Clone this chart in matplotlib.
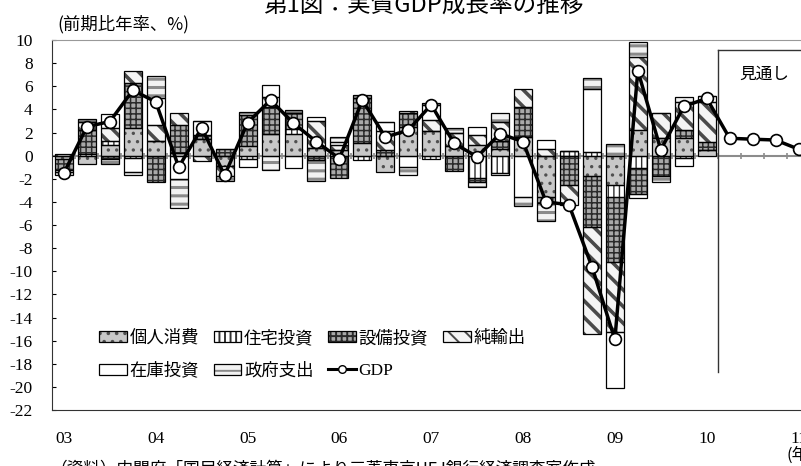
import numpy as np
import matplotlib
matplotlib.use("Agg")
import matplotlib.pyplot as plt
from matplotlib.patches import Patch
from matplotlib.lines import Line2D

plt.rcParams['font.family'] = ['Liberation Serif', 'Noto Sans CJK JP']
plt.rcParams['axes.unicode_minus'] = False
plt.rcParams['hatch.linewidth'] = 1.4
JP = 'Noto Sans CJK JP'

# 2003Q1 - 2010Q1 contributions (% pt, annualised q/q)
consumption = [-0.3, -0.7, 0.9, 2.35, 1.25, 0.2, 1.45, -0.9, 0.8, 1.85, 1.9, 0.7, 0.5, 1.05, -1.4,
               2.5, 2.1, 0.8, 0.9, 0.6, 1.6, -3.6, 0.0, -1.8, -2.55, 2.2, 1.5, 1.5, 0.5]
housing = [0.0, 0.1, 0.4, -0.2, 0.0, 0.0, 0.0, 0.0, -0.3, 0.0, 0.4, 0.0, 0.0, -0.35, 0.0,
           0.0, -0.3, 0.0, -1.95, -1.5, 0.0, 0.0, 0.4, 0.3, -1.0, -1.1, 0.0, -0.2, 0.0]
capex = [-0.9, 2.1, -0.3, 3.9, -2.3, 2.45, 0.35, 0.6, 2.7, 2.35, 1.35, -0.4, -1.9, 3.9, 0.5,
         1.15, 0.0, -1.3, -0.3, 0.7, 2.6, -0.5, -2.55, -4.35, -5.65, -2.2, -1.8, 0.7, 0.7]
net_exports = [0.1, 0.7, 1.1, 1.05, 1.4, 1.0, -0.5, -0.9, 0.0, 0.9, 0.0, 2.3, 0.4, 0.0, 1.6,
               0.2, 1.0, 1.15, 0.85, 1.6, 1.6, 0.55, -1.7, -9.25, -6.05, 6.35, 2.15, 2.45, 3.4]
inventory = [-0.2, 0.0, 1.2, -1.2, 2.3, -2.0, 1.2, 0.0, -0.7, 1.0, -1.1, 0.3, 0.3, 0.0, 0.8,
             -0.95, 1.3, 0.0, 0.75, -0.2, -3.6, 0.8, 0.0, 5.5, -4.85, -0.4, 0.0, -0.7, 0.55]
government = [-0.3, 0.3, -0.4, -0.3, 1.95, -2.5, 0.0, -0.4, 0.3, -1.25, 0.3, -1.8, 0.4, 0.3, 0.0,
              -0.75, 0.15, 0.4, -0.5, 0.8, -0.75, -1.55, 0.0, 0.9, 1.0, 1.25, -0.45, 0.45, 0.0]
gdp_actual = [-1.5, 2.5, 2.95, 5.65, 4.65, -1.0, 2.4, -1.7, 2.85, 4.8, 2.8, 1.2, -0.25, 4.8, 1.6,
              2.2, 4.4, 1.05, -0.1, 1.9, 1.2, -4.0, -4.25, -9.6, -15.9, 7.35, 0.5, 4.25, 4.95]
gdp_forecast = [1.5, 1.42, 1.35, 0.56]

year_labels = ['03', '04', '05', '06', '07', '08', '09', '10', '11']
series_names = ['個人消費', '住宅投資', '設備投資', '純輸出', '在庫投資', '政府支出']

# fill, hatch colour, hatch, hatch linewidth
styles = [
    ('#c8c8c8', '#505050', '..', 1.2),
    ('white', '#303030', '|||', 1.0),
    ('#a9a9a9', '#2a2a2a', '+++', 1.1),
    ('#f4f4f4', '#4a4a4a', '\\\\', 2.6),
    ('white', '#404040', '', 1.0),
    ('#f2f2f2', '#8a8a8a', '--', 2.2),
]

components = [consumption, housing, capex, net_exports, inventory, government]
n_bars = len(gdp_actual)
x = np.arange(n_bars)
x_all = np.arange(n_bars + len(gdp_forecast))
gdp_all = gdp_actual + gdp_forecast

fig = plt.figure(figsize=(8.01, 4.66), dpi=100)
ax = fig.add_axes([52 / 801, 1 - 410 / 466, (810 - 52) / 801, 370 / 466])

# zero line with quarter ticks
ax.axhline(0, color='#8c8c8c', lw=1.5, zorder=1)
ax.vlines(np.arange(-0.5, len(x_all) + 0.5, 1), -0.25, 0.25, color='#8c8c8c', lw=1.2, zorder=1)


def set_hlw(patches, w):
    for p in patches:
        if hasattr(p, 'set_hatch_linewidth'):
            p.set_hatch_linewidth(w)


pos_base = np.zeros(n_bars)
neg_base = np.zeros(n_bars)
width = 0.78
for vals, (fc, hc, h, hw) in zip(components, styles):
    v = np.array(vals)
    bottom = np.where(v >= 0, pos_base, neg_base)
    with plt.rc_context({'hatch.linewidth': hw}):
        bars = ax.bar(x, v, width, bottom=bottom, color=fc, edgecolor=hc, linewidth=0,
                      hatch=h, zorder=2)
    set_hlw(bars, hw)
    ax.bar(x, v, width, bottom=bottom, fill=False, edgecolor='black', linewidth=0.9, zorder=3)
    pos_base = pos_base + np.where(v > 0, v, 0)
    neg_base = neg_base + np.where(v < 0, v, 0)

ax.plot(x_all, gdp_all, color='black', lw=2.5, marker='o', ms=8.5, mfc='white',
        mec='black', mew=1.2, zorder=5)

# forecast box
ax.plot([28.5, 28.5], [-18.7, 9.15], color='#333333', lw=1.0, zorder=4)
ax.plot([28.5, 40], [9.15, 9.15], color='#333333', lw=1.0, zorder=4)
ax.text(30.5, 7.0, '見通し', family=JP, fontsize=12, ha='center', va='center')

ax.set_xlim(-0.52, 32.5)
ax.set_ylim(-22, 10)
ax.set_yticks(range(-22, 11, 2))
ax.set_xticks(range(0, 33, 4))
ax.set_xticklabels(year_labels)
ax.tick_params(axis='y', direction='in', length=3, pad=14, labelsize=12.5)
ax.tick_params(axis='x', length=0, pad=15, labelsize=12.5)
ax.spines['top'].set_color('#999999')
ax.spines['right'].set_visible(False)
ax.spines['left'].set_color('#333333')
ax.spines['bottom'].set_color('#333333')

# legend
handles = []
for fc, hc, h, hw in styles:
    with plt.rc_context({'hatch.linewidth': hw}):
        hp = Patch(facecolor=fc, edgecolor=hc, hatch=h, linewidth=0)
    set_hlw([hp], hw)
    op = Patch(fill=False, edgecolor='black', linewidth=0.9)
    handles.append((hp, op))
gdp_handle = Line2D([], [], color='black', lw=2.2, marker='o', ms=5.5, mfc='white', mec='black')
order_h = [handles[0], handles[4], handles[1], handles[5], handles[2], gdp_handle, handles[3]]
order_l = [series_names[0], series_names[4], series_names[1], series_names[5],
           series_names[2], 'GDP', series_names[3]]
ax.legend(order_h, order_l, ncol=4, loc='upper left', bbox_to_anchor=(0.062, 0.216),
          frameon=False, borderpad=0, borderaxespad=0, handlelength=1.6, handleheight=0.6,
          handletextpad=0.15, columnspacing=0.85, labelspacing=0.92,
          prop={'family': ['Liberation Serif', JP], 'size': 12.5})

fig.text(424 / 801, 1 - 12 / 466, '第1図：実質GDP成長率の推移', family=JP, fontsize=17,
         ha='center', va='baseline')
fig.text(57 / 801, 1 - 24 / 466, '(前期比年率、%)', family=JP, fontsize=12.5,
         ha='left', va='center')
fig.text(786 / 801, 1 - 455 / 466, '(年)', family=JP, fontsize=12, ha='left', va='center')
fig.text(50 / 801, 1 - 469 / 466, '（資料）内閣府「国民経済計算」により三菱東京UFJ銀行経済調査室作成',
         family=JP, fontsize=12, ha='left', va='center')

fig.savefig('out.png', dpi=100)
